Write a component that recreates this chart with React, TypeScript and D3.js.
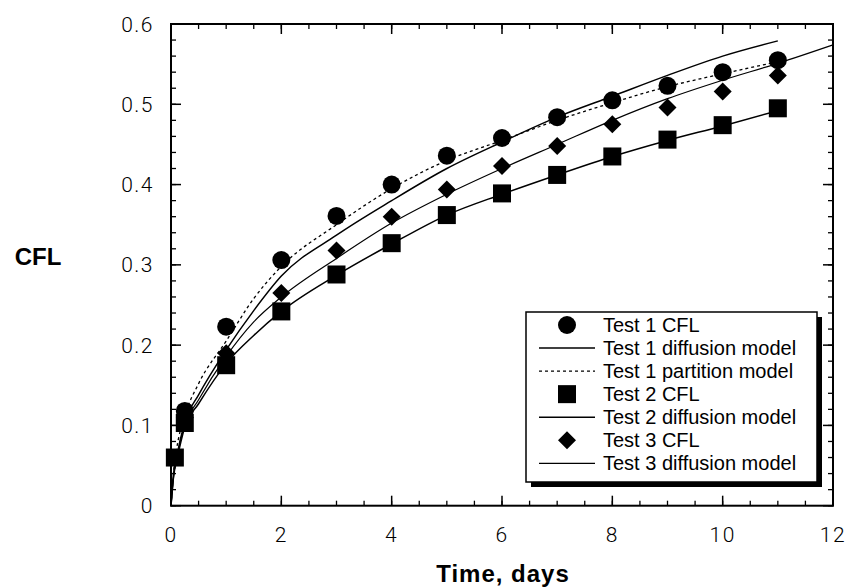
import * as d3 from 'd3';
import React from 'react';

// measured data, Time in days vs CFL
const test1Days = [0.25, 1, 2, 3, 4, 5, 6, 7, 8, 9, 10, 11];
const test1Cfl = [0.118, 0.223, 0.306, 0.361, 0.4, 0.436, 0.458, 0.484, 0.505, 0.523, 0.54, 0.555];
const test2Days = [0.07, 0.25, 1, 2, 3, 4, 5, 6, 7, 8, 9, 10, 11];
const test2Cfl = [0.06, 0.103, 0.175, 0.242, 0.288, 0.327, 0.362, 0.389, 0.412, 0.435, 0.456, 0.474, 0.495];
const test3Days = [0.25, 1, 2, 3, 4, 5, 6, 7, 8, 9, 10, 11];
const test3Cfl = [0.11, 0.19, 0.265, 0.318, 0.36, 0.394, 0.423, 0.448, 0.475, 0.496, 0.516, 0.536];

// model curves
const modelDays = [0, 0.05, 0.1, 0.25, 0.5, 1, 1.5, 2, 3, 4, 5, 6, 7, 8, 9, 10, 11];
const test1Diffusion = [0, 0.04, 0.06, 0.104, 0.138, 0.194, 0.243, 0.286, 0.337, 0.38, 0.42, 0.453, 0.484, 0.51, 0.536, 0.56, 0.579];
const test1Partition = [0, 0.045, 0.07, 0.112, 0.152, 0.205, 0.258, 0.298, 0.35, 0.395, 0.43, 0.455, 0.48, 0.502, 0.522, 0.538, 0.553];
const test2Diffusion = [0, 0.038, 0.055, 0.098, 0.127, 0.177, 0.212, 0.242, 0.287, 0.326, 0.362, 0.388, 0.412, 0.435, 0.455, 0.473, 0.492];
const test3ModelDays = [0, 0.05, 0.1, 0.25, 0.5, 1, 1.5, 2, 3, 4, 5, 6, 7, 8, 9, 10, 11, 12];
const test3Diffusion = [0, 0.04, 0.058, 0.1, 0.132, 0.186, 0.229, 0.26, 0.308, 0.352, 0.388, 0.42, 0.45, 0.48, 0.507, 0.53, 0.551, 0.574];

const xTicks = [0, 2, 4, 6, 8, 10, 12];
const yTicks = [0, 0.1, 0.2, 0.3, 0.4, 0.5, 0.6];

const legendLabels = [
  'Test 1 CFL',
  'Test 1 diffusion model',
  'Test 1 partition model',
  'Test 2 CFL',
  'Test 2 diffusion model',
  'Test 3 CFL',
  'Test 3 diffusion model',
];
const legendKinds = ['circle', 'solid', 'dotted', 'square', 'solid', 'diamond', 'thin'];

const font = '"Liberation Sans", Arial, sans-serif';
const tickFont = 'Roboto, "Liberation Sans", Arial, sans-serif';

function Marker({ kind, x, y }) {
  if (kind === 'circle') return <circle cx={x} cy={y} r={9} fill="#000" />;
  if (kind === 'square') return <rect x={x - 9} y={y - 9} width={18} height={18} fill="#000" />;
  if (kind === 'diamond') {
    const s = 9;
    return <path d={`M${x},${y - s}L${x + s},${y}L${x},${y + s}L${x - s},${y}Z`} fill="#000" />;
  }
  return null;
}

export default function App() {
  const width = 849;
  const height = 588;
  const left = 171;
  const right = 833;
  const top = 24;
  const bottom = 505.7;

  const x = d3.scaleLinear().domain([0, 12]).range([left, right]);
  const y = d3.scaleLinear().domain([0, 0.6]).range([bottom, top]);

  const line = d3
    .line()
    .x((d) => x(d[0]))
    .y((d) => y(d[1]))
    .curve(d3.curveMonotoneX);

  const pair = (xs, ys) => xs.map((v, i) => [v, ys[i]]);

  const xMinor = x.ticks(24);
  const yMinor = y.ticks(30);

  const legendX = 526;
  const legendY = 312;
  const legendW = 291;
  const legendH = 170;
  const rowY = (i) => 325 + i * 23.05;

  return (
    <svg width={width} height={height} style={{ position: 'absolute', left: 0, top: 0, background: '#fff' }}>
      <rect width={width} height={height} fill="#fff" />

      {/* minor ticks */}
      {xMinor.map((t) => (
        <g key={'xm' + t} stroke="#000" strokeWidth={1.3}>
          <line x1={x(t)} x2={x(t)} y1={bottom} y2={bottom - 5} />
          <line x1={x(t)} x2={x(t)} y1={top} y2={top + 5} />
        </g>
      ))}
      {yMinor.map((t) => (
        <g key={'ym' + t} stroke="#000" strokeWidth={1.3}>
          <line x1={left} x2={left + 5} y1={y(t)} y2={y(t)} />
          <line x1={right} x2={right - 5} y1={y(t)} y2={y(t)} />
        </g>
      ))}
      {/* major ticks */}
      {xTicks.map((t) => (
        <g key={'xt' + t} stroke="#000" strokeWidth={1.5}>
          <line x1={x(t)} x2={x(t)} y1={bottom} y2={bottom - 10} />
          <line x1={x(t)} x2={x(t)} y1={top} y2={top + 10} />
        </g>
      ))}
      {yTicks.map((t) => (
        <g key={'yt' + t} stroke="#000" strokeWidth={1.5}>
          <line x1={left} x2={left + 10} y1={y(t)} y2={y(t)} />
          <line x1={right} x2={right - 10} y1={y(t)} y2={y(t)} />
        </g>
      ))}

      <rect x={left} y={top} width={right - left} height={bottom - top} fill="none" stroke="#000" strokeWidth={2} />

      {/* tick labels */}
      {xTicks.map((t) => (
        <text key={'xl' + t} x={x(t)} y={542} textAnchor="middle" fontFamily={tickFont} fontWeight={300} fontSize={21} letterSpacing={1.5} fill="#000">
          {d3.format('d')(t)}
        </text>
      ))}
      {yTicks.map((t) => (
        <text key={'yl' + t} x={154} y={y(t) + 7.5} textAnchor="end" fontFamily={tickFont} fontWeight={300} fontSize={21} letterSpacing={1.5} fill="#000">
          {t === 0 ? '0' : d3.format('.1f')(t)}
        </text>
      ))}

      <text x={503} y={582} textAnchor="middle" fontFamily={font} fontSize={24} fontWeight="bold" letterSpacing={1}>
        Time, days
      </text>
      <text x={38} y={265} textAnchor="middle" fontFamily={font} fontSize={24} fontWeight="bold">
        CFL
      </text>

      {/* model curves */}
      <path d={line(pair(modelDays, test1Partition))} fill="none" stroke="#000" strokeWidth={1.3} strokeDasharray="3,3" />
      <path d={line(pair(modelDays, test1Diffusion))} fill="none" stroke="#000" strokeWidth={1.5} />
      <path d={line(pair(modelDays, test2Diffusion))} fill="none" stroke="#000" strokeWidth={1.5} />
      <path d={line(pair(test3ModelDays, test3Diffusion))} fill="none" stroke="#000" strokeWidth={1.2} />

      {/* measured points */}
      {pair(test1Days, test1Cfl).map((d, i) => (
        <Marker key={'c' + i} kind="circle" x={x(d[0])} y={y(d[1])} />
      ))}
      {pair(test3Days, test3Cfl).map((d, i) => (
        <Marker key={'d' + i} kind="diamond" x={x(d[0])} y={y(d[1])} />
      ))}
      {pair(test2Days, test2Cfl).map((d, i) => (
        <Marker key={'s' + i} kind="square" x={x(d[0])} y={y(d[1])} />
      ))}

      {/* legend */}
      <rect x={legendX + 5} y={legendY + 5} width={legendW} height={legendH} fill="#000" />
      <rect x={legendX} y={legendY} width={legendW} height={legendH} fill="#fff" stroke="#000" strokeWidth={1.5} />
      {legendLabels.map((label, i) => {
        const kind = legendKinds[i];
        const cy = rowY(i);
        return (
          <g key={label}>
            {kind === 'solid' || kind === 'thin' || kind === 'dotted' ? (
              <line
                x1={539}
                x2={595}
                y1={cy}
                y2={cy}
                stroke="#000"
                strokeWidth={kind === 'thin' ? 1.2 : kind === 'dotted' ? 1.3 : 1.5}
                strokeDasharray={kind === 'dotted' ? '3,3' : null}
              />
            ) : (
              <Marker kind={kind} x={567} y={cy} />
            )}
            <text x={603} y={cy + 7} fontFamily={font} fontSize={20} fill="#000">
              {label}
            </text>
          </g>
        );
      })}
    </svg>
  );
}
